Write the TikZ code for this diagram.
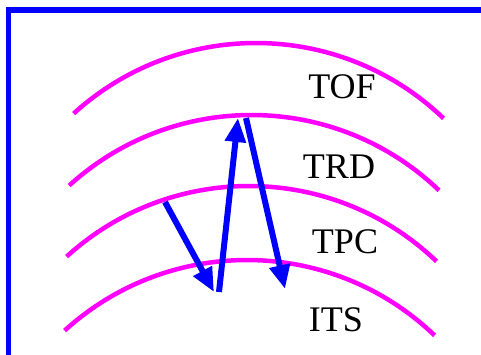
\documentclass[tikz,border=0pt]{standalone}
\usepackage{fontspec}
\setmainfont{Liberation Serif}
\usetikzlibrary{arrows.meta}
\definecolor{frameBlue}{RGB}{0,0,255}
\definecolor{layerPink}{RGB}{255,0,255}
\tikzset{
    layer/.style={draw=layerPink,line width=0.09cm},
    track/.style={draw=frameBlue,line width=0.12cm,-{Triangle[length=0.48cm,width=0.4cm]}},
    lbl/.style={font=\fontsize{20.5}{24}\selectfont,inner sep=0pt}
}
\begin{document}
\begin{tikzpicture}[x=0.02cm,y=-0.02cm]
    \useasboundingbox (0,0) rectangle (481,355);
    \draw[frameBlue,line width=0.12cm] (481,10) -- (8.5,10) -- (8.5,355);

    % detector layers
    \draw[layer] (256,314) ++(-132.3:271) arc[start angle=-132.3,end angle=-46.2,radius=271];
    \draw[layer] (251.5,386) ++(-132.3:271) arc[start angle=-132.3,end angle=-46.2,radius=271];
    \draw[layer] (249,457) ++(-132.3:271) arc[start angle=-132.3,end angle=-46.2,radius=271];
    \draw[layer] (247,531) ++(-132.3:271) arc[start angle=-132.3,end angle=-46.2,radius=271];

    \node[lbl] (tof) at (342,87)  {TOF};
    \node[lbl] (trd) at (339,167) {TRD};
    \node[lbl] (tpc) at (345,242) {TPC};
    \node[lbl] (its) at (336,320) {ITS};

    % track points
    \coordinate (p1) at (165,202);
    \coordinate (p2) at (214,292);
    \coordinate (p3) at (219,292);
    \coordinate (p4) at (238,118);
    \coordinate (p5) at (246,118);
    \coordinate (p6) at (285,289);

    \draw[track] (p1) -- (p2);
    \draw[track] (p3) -- (p4);
    \draw[track] (p5) -- (p6);
\end{tikzpicture}
\end{document}
